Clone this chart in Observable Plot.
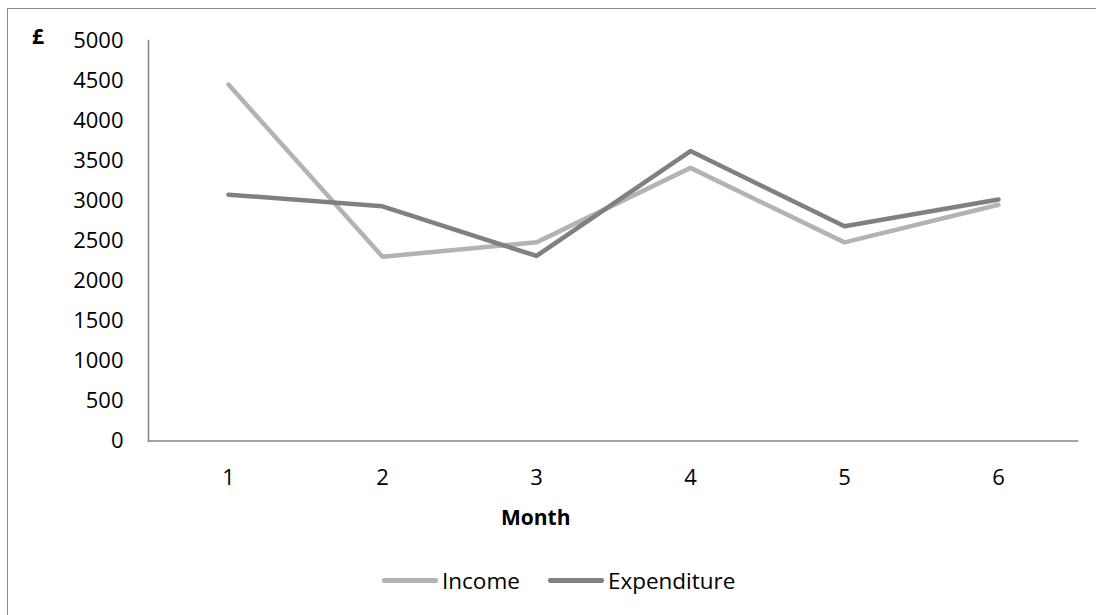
<!DOCTYPE html>
<html>
<head>
<meta charset="utf-8">
<script src="https://cdn.jsdelivr.net/npm/d3@7"></script>
<script src="https://cdn.jsdelivr.net/npm/@observablehq/plot@0.6"></script>
<style>
  html, body { margin: 0; padding: 0; background: #fff; overflow: hidden; }
  body { width: 1096px; height: 615px; position: relative; font-family: "Open Sans", sans-serif; }
  #border { position: absolute; left: 7px; top: 8px; width: 1200px; height: 700px; border-left: 1.5px solid #8c8c8c; border-top: 1.5px solid #8c8c8c; }
  #chart { position: absolute; left: 0; top: 0; }
  .lbl { position: absolute; font-weight: bold; color: #000; font-size: 21px; line-height: 1; }
  #legend { position: absolute; top: 565px; left: 382px; display: flex; align-items: center; font-size: 22.5px; color: #000; }
  .sw { display: inline-block; width: 56px; height: 4.5px; border-radius: 2px; margin-right: 4px; }
  .item { display: flex; align-items: center; margin-right: 28px; }
</style>
</head>
<body>
<div id="border"></div>
<div id="chart"></div>
<div class="lbl" id="pound" style="left:32px; top:26px;">£</div>
<div class="lbl" id="xlabel" style="left:501px; top:507px;">Month</div>
<div id="legend"></div>
<script>
const months = [1, 2, 3, 4, 5, 6];
const income = [4450, 2300, 2480, 3410, 2480, 2950];
const expenditure = [3075, 2930, 2310, 3620, 2680, 3015];
const yTicks = [0, 500, 1000, 1500, 2000, 2500, 3000, 3500, 4000, 4500, 5000];
const seriesNames = ["Income", "Expenditure"];
const seriesColors = ["#b3b3b3", "#808080"];

const data = [];
months.forEach((m, i) => {
  data.push({month: m, value: income[i], series: "Income"});
  data.push({month: m, value: expenditure[i], series: "Expenditure"});
});

const chart = Plot.plot({
  width: 1096,
  height: 470,
  marginLeft: 148,
  marginRight: 19,
  marginTop: 40,
  marginBottom: 29.5,
  style: {fontFamily: "Open Sans, sans-serif", fontSize: "22px", color: "#000", background: "transparent", overflow: "visible"},
  x: {type: "point", domain: months, padding: 0.5},
  y: {domain: [0, 5000]},
  color: {domain: seriesNames, range: seriesColors},
  marks: [
    Plot.frame({anchor: "left", stroke: "#868686", strokeWidth: 1.5}),
    Plot.frame({anchor: "bottom", stroke: "#868686", strokeWidth: 1.5}),
    Plot.axisY({ticks: yTicks, tickFormat: d3.format("d"), tickSize: 0, tickPadding: 25, label: null, fontSize: 22}),
    Plot.axisX({tickSize: 0, tickPadding: 28, label: null, fontSize: 22}),
    Plot.line(data, {x: "month", y: "value", z: "series", stroke: "series", strokeWidth: 4.5, strokeLinecap: "round", strokeLinejoin: "round"})
  ]
});
document.getElementById("chart").append(chart);

const legend = document.getElementById("legend");
seriesNames.forEach((name, i) => {
  const item = document.createElement("div");
  item.className = "item";
  const sw = document.createElement("span");
  sw.className = "sw";
  sw.style.background = seriesColors[i];
  const t = document.createElement("span");
  t.textContent = name;
  item.append(sw, t);
  legend.append(item);
});
</script>
</body>
</html>
